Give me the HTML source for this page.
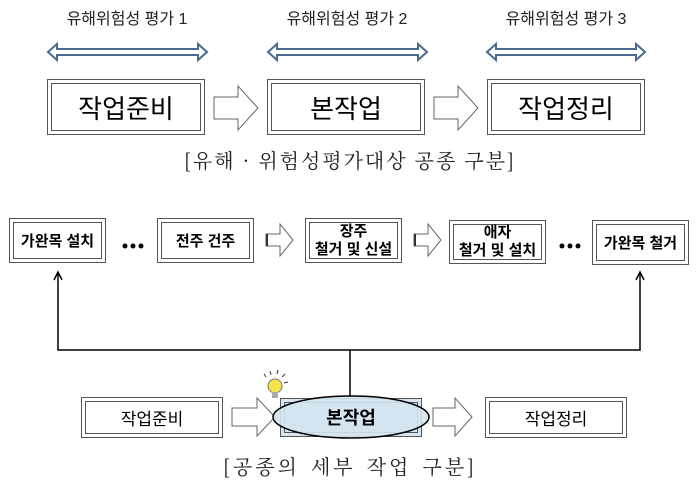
<!DOCTYPE html>
<html><head><meta charset="utf-8"><style>
body{margin:0;width:699px;height:480px;background:#fff;overflow:hidden;position:relative;font-family:"Liberation Sans","Noto Sans CJK KR",sans-serif}
.t{position:absolute;white-space:nowrap}
.b{position:absolute;box-sizing:border-box;border:1px solid #555;background:#fff}
.b>div{position:absolute;inset:3px;border:1px solid #555;display:flex;align-items:center;justify-content:center;text-align:center}
</style></head><body>
<svg width="699" height="480" style="position:absolute;left:0;top:0">
<g fill="#fff" stroke="#4a6a90" stroke-width="2">
<path d="M48,52 L57,44 L57,49 L198,49 L198,44 L207,52 L198,60 L198,55 L57,55 L57,60 Z"/>
<path d="M268,52 L277,44 L277,49 L418,49 L418,44 L427,52 L418,60 L418,55 L277,55 L277,60 Z"/>
<path d="M487,52 L496,44 L496,49 L636,49 L636,44 L645,52 L636,60 L636,55 L496,55 L496,60 Z"/>
</g>
<g fill="#fff" stroke="#666" stroke-width="1">
<path d="M214,97 L238,97 L238,86 L258,108 L238,130 L238,119 L214,119 Z"/>
<path d="M434,97 L458,97 L458,86 L478,108 L458,130 L458,119 L434,119 Z"/>
<path d="M266,234 L280,234 L280,224 L293,240 L280,256 L280,246 L266,246 Z"/>
<path d="M414,234 L428,234 L428,224 L441,240 L428,256 L428,246 L414,246 Z"/>
<path d="M232,408 L257,408 L257,398 L275,417 L257,436 L257,426 L232,426 Z"/>
<path d="M433,408 L455,408 L455,398 L472,417 L455,436 L455,426 L433,426 Z"/>
</g>
<g stroke="#333" stroke-width="2"><line x1="267" y1="234" x2="267" y2="246"/><line x1="415" y1="234" x2="415" y2="246"/></g>
<g stroke="#000" stroke-width="1.5" fill="none">
<polyline points="58,272 58,350 640,350 640,272"/>
<polyline points="54,280 58,272 62,280"/>
<polyline points="636,280 640,272 644,280"/>
<line x1="350" y1="350" x2="350" y2="397"/>
</g>
<g fill="#000"><circle cx="125" cy="246" r="2.5"/><circle cx="133" cy="246" r="2.5"/><circle cx="141" cy="246" r="2.5"/>
<circle cx="562" cy="246" r="2.5"/><circle cx="570" cy="246" r="2.5"/><circle cx="578" cy="246" r="2.5"/></g>
</svg>
<div class="t" style="left:47px;top:5px;width:160px;text-align:center;font-size:16px;color:#222">유해위험성 평가 1</div>
<div class="t" style="left:267px;top:5px;width:160px;text-align:center;font-size:16px;color:#222">유해위험성 평가 2</div>
<div class="t" style="left:486px;top:5px;width:160px;text-align:center;font-size:16px;color:#222">유해위험성 평가 3</div>
<div class="b" style="left:47px;top:79px;width:158px;height:56px"><div style="font-size:26px">작업준비</div></div>
<div class="b" style="left:267px;top:79px;width:158px;height:56px"><div style="font-size:26px">본작업</div></div>
<div class="b" style="left:487px;top:79px;width:158px;height:56px"><div style="font-size:26px">작업정리</div></div>
<div class="t" style="left:100px;top:145px;width:500px;text-align:center;font-size:20px;letter-spacing:2px;font-family:'Noto Serif CJK SC','Liberation Serif',serif;color:#222">[유해 · 위험성평가대상 공종 구분]</div>
<div class="b" style="left:9px;top:218px;width:97px;height:45px"><div style="font-size:15px;font-weight:bold">가완목 설치</div></div>
<div class="b" style="left:157px;top:218px;width:97px;height:45px"><div style="font-size:15px;font-weight:bold">전주 건주</div></div>
<div class="b" style="left:305px;top:218px;width:97px;height:45px"><div style="font-size:15px;font-weight:bold;line-height:18px">장주<br>철거 및 신설</div></div>
<div class="b" style="left:449px;top:220px;width:97px;height:44px"><div style="font-size:15px;font-weight:bold;line-height:18px">애자<br>철거 및 설치</div></div>
<div class="b" style="left:592px;top:220px;width:97px;height:45px"><div style="font-size:15px;font-weight:bold">가완목 철거</div></div>
<div class="b" style="left:81px;top:397px;width:142px;height:41px"><div style="font-size:17px">작업준비</div></div>
<div class="b" style="left:280px;top:398px;width:142px;height:39px;background:#d6e6f2"><div style="background:#d6e6f2"></div></div>
<svg width="699" height="480" style="position:absolute;left:0;top:0">
<ellipse cx="351" cy="417" rx="78" ry="21" fill="#d4e4f0" fill-opacity="0.9" stroke="#000" stroke-width="1.5"/>
<text x="351" y="424" text-anchor="middle" font-size="18" font-weight="bold" font-family="Liberation Sans, Noto Sans CJK KR, sans-serif">본작업</text>
<circle cx="275" cy="386" r="7" fill="#f4e34a" stroke="#777"/>
<rect x="272" y="392" width="6" height="6" fill="#aaa"/>
<g stroke="#333" stroke-width="1"><line x1="266" y1="377" x2="264" y2="374"/><line x1="271" y1="375" x2="270" y2="371"/><line x1="277" y1="374" x2="278" y2="370"/><line x1="282" y1="377" x2="285" y2="374"/><line x1="284" y1="383" x2="288" y2="382"/></g>
</svg>
<div class="b" style="left:485px;top:397px;width:142px;height:41px"><div style="font-size:17px">작업정리</div></div>
<div class="t" style="left:100px;top:451px;width:500px;text-align:center;font-size:20px;letter-spacing:3px;word-spacing:3px;font-family:'Noto Serif CJK SC','Liberation Serif',serif;color:#222">[공종의 세부 작업 구분]</div>
</body></html>
